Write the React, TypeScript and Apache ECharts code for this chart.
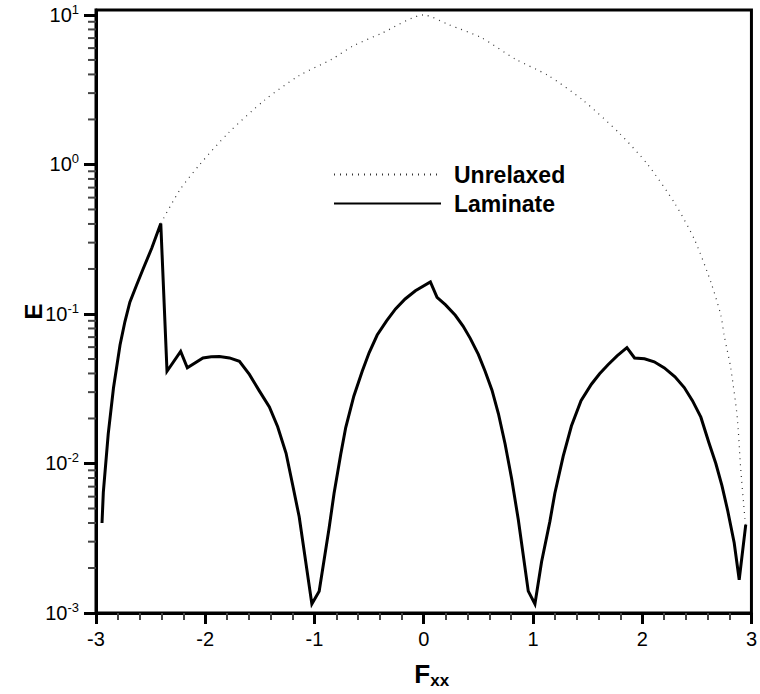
import React, { useEffect, useRef } from 'react';
import * as echarts from 'echarts';

// Laminate energy E against F_xx (kinked, solid black)
const laminateF = [
  -2.945, -2.933, -2.888, -2.84, -2.78, -2.735, -2.69, -2.63, -2.569, -2.49,
  -2.407, -2.35, -2.225, -2.164, -2.021, -1.945, -1.87, -1.778, -1.687, -1.596,
  -1.505, -1.413, -1.337, -1.26, -1.2, -1.14, -1.024, -0.957, -0.866, -0.821,
  -0.76, -0.714, -0.64, -0.563, -0.5, -0.426, -0.34, -0.258, -0.17, -0.076,
  0.061, 0.122, 0.2, 0.289, 0.36, 0.426, 0.5, 0.562, 0.625, 0.684,
  0.745, 0.805, 0.866, 0.957, 1.018, 1.079, 1.155, 1.2, 1.277, 1.352,
  1.44, 1.535, 1.61, 1.687, 1.77, 1.86, 1.93, 2.021, 2.11, 2.203,
  2.3, 2.385, 2.46, 2.537, 2.61, 2.674, 2.73, 2.781, 2.842, 2.888,
  2.948,
];
const laminateE = [
  0.004, 0.0064, 0.0158, 0.032, 0.062, 0.089, 0.12, 0.155, 0.2, 0.275,
  0.403, 0.0414, 0.0561, 0.0436, 0.0508, 0.0518, 0.052, 0.0508, 0.0482, 0.0394,
  0.0306, 0.0239, 0.0176, 0.0117, 0.0072, 0.0044, 0.00115, 0.0014, 0.0037, 0.0063,
  0.0115, 0.0174, 0.0282, 0.0414, 0.055, 0.0723, 0.09, 0.108, 0.126, 0.143,
  0.164, 0.129, 0.115, 0.098, 0.083, 0.0687, 0.0537, 0.0414, 0.0309, 0.0215,
  0.0135, 0.0079, 0.0042, 0.0014, 0.00115, 0.0022, 0.0041, 0.0063, 0.0112, 0.0178,
  0.0263, 0.0339, 0.0398, 0.0458, 0.0525, 0.0596, 0.0508, 0.0502, 0.0479, 0.0436,
  0.038, 0.0322, 0.0263, 0.0204, 0.0138, 0.01, 0.0071, 0.0049, 0.00295, 0.00167,
  0.0039,
];

// Unrelaxed energy (dotted)
const unrelaxedF = [
  -2.407, -2.23, -2.05, -1.79, -1.46, -1.14, -0.84, -0.65, -0.38, 0,
  0.23, 0.53, 0.84, 1.14, 1.46, 1.79, 2.05, 2.3, 2.48, 2.63,
  2.72, 2.75, 2.81, 2.87, 2.9, 2.94, 2.948,
];
const unrelaxedE = [
  0.403, 0.68, 1.0, 1.62, 2.68, 3.93, 5.06, 6.18, 7.57, 10,
  8.6, 7.03, 5.06, 3.93, 2.68, 1.62, 1.0, 0.546, 0.313, 0.162,
  0.098, 0.072, 0.0436, 0.0204, 0.0096, 0.0043, 0.0039,
];

// Decade exponents for the log axis and the minor multipliers in between
const decadeExponents = [-3, -2, -1, 0, 1];
const minorMultipliers = [2, 3, 4, 5, 6, 7, 8, 9];

const FONT = '"Liberation Sans", Arial, Helvetica, sans-serif';
const Y_MIN = -3;
const Y_MAX = 1.033;

export default function App() {
  const ref = useRef<HTMLDivElement>(null);

  useEffect(() => {
    if (!ref.current) return;
    const chart = echarts.init(ref.current, undefined, { renderer: 'svg' });

    const minorTickValues: number[][] = [];
    decadeExponents.slice(0, -1).forEach((d) => {
      minorMultipliers.forEach((m) => {
        minorTickValues.push([-3, Math.log10(m * Math.pow(10, d))]);
      });
    });

    const option: echarts.EChartsOption = {
      animation: false,
      backgroundColor: '#fff',
      textStyle: { fontFamily: FONT },
      grid: {
        left: 96,
        right: 6,
        top: 10,
        bottom: 72,
        show: true,
        borderColor: '#000',
        borderWidth: 3,
        backgroundColor: 'transparent',
      },
      legend: {
        data: ['Unrelaxed', 'Laminate'],
        orient: 'vertical',
        left: 328,
        top: 158,
        itemWidth: 107,
        itemHeight: 14,
        itemGap: 6,
        selectedMode: false,
        itemStyle: { opacity: 0 },
        textStyle: {
          fontFamily: FONT,
          fontSize: 23,
          fontWeight: 'bold',
          color: '#000',
          padding: [0, 0, 0, 8],
        },
      },
      xAxis: {
        type: 'value',
        min: -3,
        max: 3,
        interval: 1,
        name: '{f|F}{s|xx}',
        nameLocation: 'middle',
        nameGap: 46,
        nameMoveOverlap: false,
        nameTextStyle: {
          rich: {
            f: { fontFamily: FONT, fontSize: 26, fontWeight: 'bold', color: '#000', lineHeight: 30, padding: [0, 0, 0, 16] },
            s: { fontFamily: FONT, fontSize: 17, fontWeight: 'bold', color: '#000', lineHeight: 17, verticalAlign: 'bottom' },
          },
        },
        axisLine: { onZero: false, lineStyle: { color: '#000', width: 3 } },
        axisTick: { length: 11, lineStyle: { color: '#000', width: 3 } },
        minorTick: { show: true, splitNumber: 5, length: 7, lineStyle: { color: '#444', width: 2 } },
        splitLine: { show: false },
        minorSplitLine: { show: false },
        axisLabel: { fontFamily: FONT, fontSize: 20, color: '#000', margin: 16 },
      },
      yAxis: {
        type: 'value',
        min: Y_MIN,
        max: Y_MAX,
        interval: 1,
        name: 'E',
        nameLocation: 'middle',
        nameGap: 51,
        nameMoveOverlap: false,
        nameTextStyle: { fontFamily: FONT, fontSize: 24, fontWeight: 'bold', color: '#000' },
        axisLine: { onZero: false, lineStyle: { color: '#000', width: 3 } },
        axisTick: { length: 12, customValues: decadeExponents, lineStyle: { color: '#000', width: 3 } },
        splitLine: { show: false },
        axisLabel: {
          customValues: decadeExponents,
          margin: 17,
          formatter: (v: number) => `{b|10}{s|${Math.round(v)}}`,
          rich: {
            b: { fontFamily: FONT, fontSize: 20, color: '#000', lineHeight: 24 },
            s: { fontFamily: FONT, fontSize: 13, color: '#000', lineHeight: 13, verticalAlign: 'top' },
          },
        },
      },
      series: [
        {
          name: 'Unrelaxed',
          type: 'line',
          data: unrelaxedF.map((f, i) => [f, Math.log10(unrelaxedE[i])]),
          symbol: 'none',
          showSymbol: false,
          smooth: 0.25,
          color: '#333',
          lineStyle: { color: '#333', width: 1.2, type: [1, 5] },
          z: 2,
        },
        {
          name: 'Laminate',
          type: 'line',
          data: laminateF.map((f, i) => [f, Math.log10(laminateE[i])]),
          symbol: 'none',
          showSymbol: false,
          color: '#000',
          lineStyle: { color: '#000', width: 3, join: 'miter' },
          z: 3,
        },
        {
          // minor log ticks on the E axis
          type: 'custom',
          silent: true,
          clip: false,
          data: minorTickValues,
          renderItem: (_params: any, api: any) => {
            const p = api.coord([api.value(0), api.value(1)]);
            return {
              type: 'line',
              shape: { x1: p[0] - 8, y1: p[1], x2: p[0], y2: p[1] },
              style: { stroke: '#444', lineWidth: 2 },
            };
          },
          z: 1,
        },
      ],
    };

    chart.setOption(option);
    return () => chart.dispose();
  }, []);

  return (
    <div
      ref={ref}
      style={{ position: 'absolute', left: 0, top: 0, width: 760, height: 694 }}
    />
  );
}
